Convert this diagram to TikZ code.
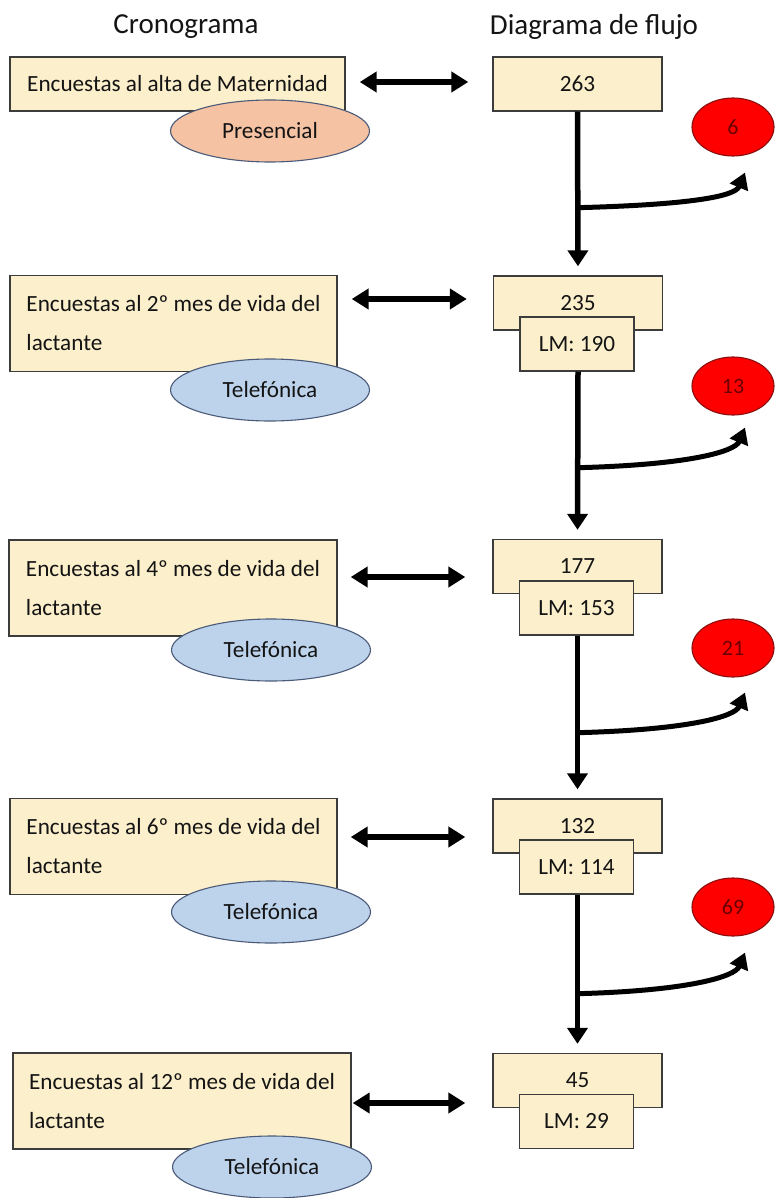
\documentclass[tikz,border=0pt]{standalone}
\usepackage{fontspec}
\setmainfont{Carlito}
\usepackage{tikz}
\usetikzlibrary{arrows.meta,shapes.geometric}

\definecolor{boxfill}{HTML}{FCEFCC}
\definecolor{boxline}{HTML}{3C3C3C}
\definecolor{salmon}{HTML}{F5C2A4}
\definecolor{skyfill}{HTML}{BDD3EC}
\definecolor{ovalline}{HTML}{4A5A78}
\definecolor{lostred}{HTML}{FF0000}
\definecolor{lostline}{HTML}{8A1010}
\definecolor{losttext}{HTML}{6A0000}
\definecolor{textgray}{HTML}{141414}

\begin{document}
\begin{tikzpicture}[x=1pt,y=-1pt,
  txt/.style={font=\fontsize{23.2pt}{39pt}\selectfont, text=textgray},
  title/.style={font=\fontsize{29pt}{34pt}\selectfont, text=textgray},
  cronobox/.style={draw=boxline, line width=1.4pt, fill=boxfill, minimum height=96pt, align=left, inner sep=0pt, txt},
  flowbox/.style={draw=boxline, line width=1.4pt, fill=boxfill, minimum width=169pt, minimum height=54pt, inner sep=0pt, txt},
  lmbox/.style={draw=boxline, line width=1.4pt, fill=boxfill, minimum width=114pt, minimum height=54pt, inner sep=0pt, txt},
  mode/.style={ellipse, draw=ovalline, line width=1.1pt, minimum width=199pt, minimum height=62pt, inner sep=0pt, txt},
  lost/.style={ellipse, draw=lostline, line width=1.1pt, fill=lostred, minimum width=82pt, minimum height=58pt, inner sep=0pt, font=\fontsize{22pt}{26pt}\selectfont, text=losttext},
  dbl/.style={line width=5.5pt, {Triangle[length=17pt,width=20pt]}-{Triangle[length=17pt,width=20pt]}},
  down/.style={line width=5.5pt, -{Triangle[length=16pt,width=20pt]}, shorten >=9pt},
  side/.style={line width=5pt, -{Triangle[length=16pt,width=19pt]}}
]
\useasboundingbox (0,0) rectangle (774,1198);

% titulos
\node[title] (tcrono) at (186,27) {Cronograma};
\node[title] (tflujo) at (594,27) {Diagrama de flujo};

% cronograma
\node[cronobox, minimum width=335pt, minimum height=54pt] (enc1) at (177.5,84) {Encuestas al alta de Maternidad};
\node[mode, fill=salmon] (mod1) at (270,131) {Presencial};

\node[cronobox, minimum width=327pt] (enc2) at (173.5,323.5) {Encuestas al 2º mes de vida del\\lactante};
\node[mode, fill=skyfill] (mod2) at (270,390) {Telefónica};

\node[cronobox, minimum width=328pt] (enc3) at (173,588) {Encuestas al 4º mes de vida del\\lactante};
\node[mode, fill=skyfill] (mod3) at (271,650) {Telefónica};

\node[cronobox, minimum width=327pt] (enc4) at (173.5,846.5) {Encuestas al 6º mes de vida del\\lactante};
\node[mode, fill=skyfill] (mod4) at (271,912) {Telefónica};

\node[cronobox, minimum width=338pt] (enc5) at (182,1101) {Encuestas al 12º mes de vida del\\lactante};
\node[mode, fill=skyfill] (mod5) at (272,1167) {Telefónica};

% diagrama de flujo
\node[flowbox] (n1) at (577.5,84) {263};
\node[flowbox] (n2) at (578,303) {235};
\node[lmbox] (lm2) at (577,344) {LM: 190};
\node[flowbox] (n3) at (577.5,566.5) {177};
\node[lmbox] (lm3) at (576.5,608) {LM: 153};
\node[flowbox] (n4) at (577.5,826) {132};
\node[lmbox] (lm4) at (576.5,867) {LM: 114};
\node[flowbox] (n5) at (577.5,1080.5) {45};
\node[lmbox] (lm5) at (576.5,1121.5) {LM: 29};

% perdidas
\node[lost] (out1) at (733,127) {6};
\node[lost] (out2) at (733,386) {13};
\node[lost] (out3) at (733,648) {21};
\node[lost] (out4) at (733,907) {69};

% flechas entre columnas
\coordinate (h1) at (0,82);
\coordinate (h2) at (0,299);
\coordinate (h3) at (0,577);
\coordinate (h4) at (0,837);
\coordinate (h5) at (0,1103);
\draw[dbl, shorten <=14pt, shorten >=24pt] (enc1.east |- h1) -- (n1.west |- h1);
\draw[dbl, shorten <=14pt, shorten >=26pt] (enc2.east |- h2) -- (n2.west |- h2);
\draw[dbl, shorten <=13pt, shorten >=27pt] (enc3.east |- h3) -- (n3.west |- h3);
\draw[dbl, shorten <=13pt, shorten >=27pt] (enc4.east |- h4) -- (n4.west |- h4);
\draw[dbl, shorten <=1pt, shorten >=27pt] (enc5.east |- h5) -- (n5.west |- h5);

% flujo vertical
\draw[down] (n1.south) -- (n2.north);
\draw[down] (lm2.south -| n2) -- (n3.north);
\draw[down] (lm3.south -| n3) -- (n4.north);
\draw[down] (lm4.south -| n4) -- (n5.north);

% ramas hacia las perdidas
\coordinate (b1) at ([yshift=-96pt]n1.south);
\coordinate (b2) at ([yshift=-96pt]lm2.south -| n2);
\coordinate (b3) at ([yshift=-97pt]lm3.south -| n3);
\coordinate (b4) at ([yshift=-99pt]lm4.south -| n4);
\coordinate (e1) at ([xshift=12pt,yshift=-16pt]out1.south);
\coordinate (e2) at ([xshift=12pt,yshift=-12pt]out2.south);
\coordinate (e3) at ([xshift=12pt,yshift=-15pt]out3.south);
\coordinate (e4) at ([xshift=12pt,yshift=-16pt]out4.south);
\draw[side] (b1) .. controls ([xshift=112pt,yshift=3pt]b1) and ([xshift=-10pt,yshift=-24pt]e1) .. (e1);
\draw[side] (b2) .. controls ([xshift=112pt,yshift=3pt]b2) and ([xshift=-10pt,yshift=-24pt]e2) .. (e2);
\draw[side] (b3) .. controls ([xshift=112pt,yshift=3pt]b3) and ([xshift=-10pt,yshift=-24pt]e3) .. (e3);
\draw[side] (b4) .. controls ([xshift=112pt,yshift=3pt]b4) and ([xshift=-10pt,yshift=-24pt]e4) .. (e4);
\end{tikzpicture}
\end{document}
